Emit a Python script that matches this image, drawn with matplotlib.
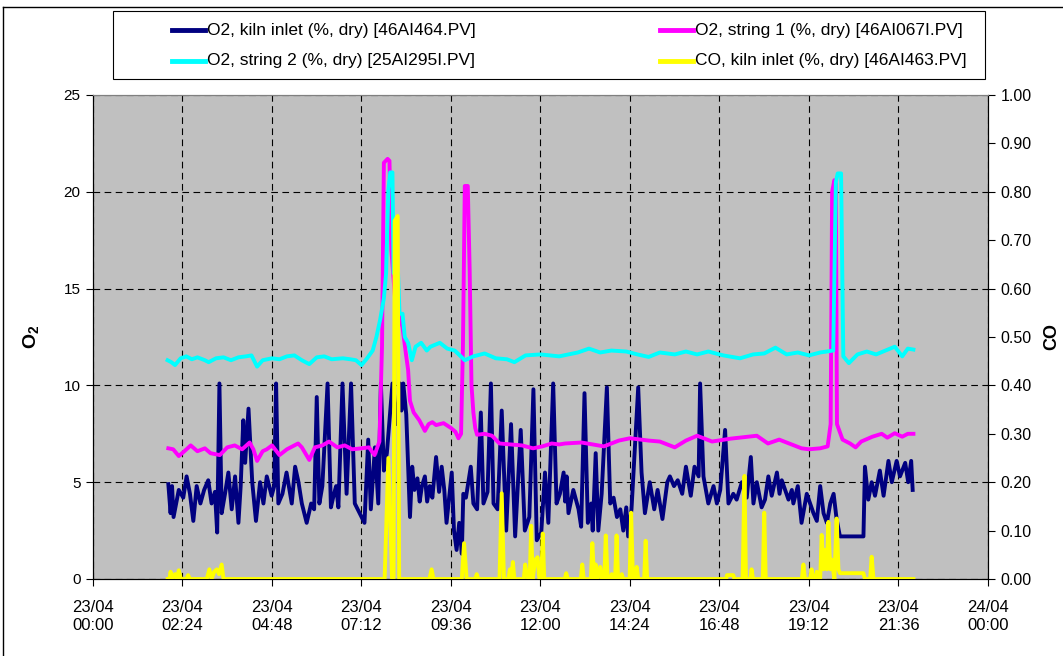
import matplotlib.pyplot as plt
from matplotlib.lines import Line2D
from matplotlib.patches import Rectangle

plt.rcParams['font.family'] = ['Liberation Sans', 'DejaVu Sans']
plt.rcParams['mathtext.fontset'] = 'custom'
plt.rcParams['mathtext.rm'] = 'Liberation Sans'
plt.rcParams['mathtext.bf'] = 'Liberation Sans:bold'

# time in hours after 23/04 00:00
kiln_t = [2.02, 2.08, 2.12, 2.16, 2.30, 2.42, 2.51, 2.60, 2.69, 2.78, 2.88, 2.98, 3.09, 3.18, 3.27,
          3.33, 3.39, 3.45, 3.54, 3.63, 3.72, 3.81, 3.90, 3.96, 4.03, 4.08, 4.17, 4.27, 4.37, 4.48,
          4.57, 4.66, 4.79, 4.86, 4.91, 4.97, 5.08, 5.19, 5.33, 5.42, 5.51, 5.60, 5.73, 5.85, 5.93,
          6.00, 6.07, 6.15, 6.29, 6.38, 6.45, 6.52, 6.58, 6.69, 6.80, 6.92, 7.02, 7.15, 7.28, 7.38,
          7.45, 7.56, 7.65, 7.72, 7.80, 7.88, 8.03, 8.13, 8.23, 8.27, 8.32, 8.40, 8.50, 8.56, 8.62,
          8.70, 8.76, 8.82, 8.90, 8.96, 9.03, 9.10, 9.20, 9.28, 9.35, 9.42, 9.48, 9.62, 9.68, 9.75,
          9.82, 9.89, 9.93, 10.00, 10.13, 10.20, 10.30, 10.40, 10.47, 10.58, 10.67, 10.74, 10.85,
          10.96, 11.08, 11.21, 11.32, 11.47, 11.58, 11.70, 11.81, 11.90, 12.02, 12.12, 12.21, 12.34,
          12.43, 12.52, 12.62, 12.66, 12.70, 12.75, 12.88, 13.02, 13.09, 13.18, 13.27, 13.36, 13.40,
          13.48, 13.55, 13.64, 13.78, 13.87, 13.96, 14.05, 14.14, 14.22, 14.30, 14.35, 14.44, 14.62,
          14.71, 14.80, 14.93, 15.05, 15.14, 15.27, 15.40, 15.47, 15.58, 15.68, 15.80, 15.90, 16.03,
          16.13, 16.24, 16.28, 16.37, 16.50, 16.64, 16.73, 16.82, 16.95, 17.04, 17.17, 17.26, 17.40,
          17.53, 17.64, 17.71, 17.80, 17.93, 18.02, 18.11, 18.20, 18.34, 18.41, 18.47, 18.65, 18.74,
          18.78, 18.90, 19.00, 19.14, 19.32, 19.41, 19.50, 19.59, 19.68, 19.77, 19.86, 19.94, 20.03,
          20.66, 20.70, 20.79, 20.88, 20.97, 21.10, 21.20, 21.33, 21.42, 21.55, 21.64, 21.78, 21.86,
          21.94, 21.98]
kiln_o2 = [4.9, 3.4, 4.8, 3.2, 4.6, 4.2, 5.3, 4.4, 3.0, 4.8, 3.9, 4.6, 5.1, 3.9, 4.5,
           2.4, 10.1, 3.4, 4.4, 5.5, 3.6, 5.3, 2.9, 4.8, 8.2, 6.0, 8.8, 5.0, 3.0, 5.0,
           3.9, 5.3, 4.3, 4.8, 10.1, 3.9, 4.4, 5.5, 3.9, 5.8, 5.0, 3.9, 2.9, 3.9, 3.6,
           9.4, 3.9, 4.8, 10.1, 3.7, 4.3, 4.8, 3.7, 10.1, 4.4, 10.1, 3.9, 3.4, 2.9, 7.2,
           3.6, 6.8, 3.9, 10.1, 5.6, 6.5, 10.1, 8.0, 10.1, 8.7, 10.1, 8.5, 3.2, 5.8, 4.6,
           5.2, 4.0, 4.8, 5.3, 4.0, 4.8, 4.2, 6.3, 4.5, 5.8, 4.6, 2.9, 5.5, 2.5, 1.5,
           2.9, 1.3, 4.4, 4.2, 5.8, 3.9, 3.6, 8.6, 3.9, 4.5, 10.1, 3.9, 3.6,
           8.7, 2.5, 8.0, 2.2, 7.7, 2.5, 3.2, 9.8, 2.0, 2.4, 5.5, 2.9, 10.1,
           3.9, 4.4, 5.5, 4.0, 5.3, 3.4, 4.6, 3.6, 2.7, 9.6, 2.9, 3.9, 2.5,
           6.5, 2.5, 4.4, 9.9, 3.9, 4.2, 3.2, 3.6, 2.5, 3.7, 2.2, 3.6, 9.9,
           5.5, 3.4, 5.0, 3.6, 4.6, 3.1, 5.0, 5.3, 4.8, 5.1, 4.4, 5.8, 4.3,
           5.8, 5.3, 10.1, 5.3, 3.9, 4.8, 3.9, 4.6, 7.7, 3.9, 4.4, 4.1, 5.0,
           4.2, 6.3, 3.9, 5.0, 3.7, 4.1, 5.3, 4.3, 5.5, 4.4, 5.1, 4.1, 4.6,
           3.9, 4.8, 2.9, 4.4, 3.4, 3.0, 4.8, 3.4, 2.9, 3.9, 4.4, 3.1, 2.2,
           2.2, 5.8, 4.1, 5.0, 4.3, 5.6, 4.3, 6.1, 5.0, 6.1, 5.3, 6.0, 5.0,
           6.1, 4.6]

str1_t = [2.02, 2.15, 2.30, 2.45, 2.62, 2.80, 3.00, 3.15, 3.40, 3.60, 3.80, 4.00, 4.20, 4.30, 4.40,
          4.55, 4.66, 4.80, 5.00, 5.20, 5.50, 5.60, 5.80, 5.95, 6.15, 6.33, 6.55, 6.75, 6.95, 7.20,
          7.40, 7.55, 7.68, 7.75, 7.80, 7.90, 7.95, 8.00, 8.10, 8.30, 8.40, 8.45, 8.50, 8.60, 8.75,
          8.90, 9.00, 9.10, 9.20, 9.40, 9.60, 9.72, 9.80, 9.87, 9.92, 9.97, 10.05, 10.10, 10.15,
          10.20, 10.25, 10.30, 10.50, 10.70, 10.90, 11.20, 11.50, 11.80, 12.05, 12.30, 12.50, 12.66,
          13.10, 13.70, 14.10, 14.40, 14.90, 15.20, 15.60, 15.90, 16.20, 16.60, 17.10, 17.80, 18.10,
          18.40, 18.80, 19.00, 19.20, 19.50, 19.70, 19.78, 19.82, 19.88, 19.92, 19.95, 20.10, 20.30,
          20.45, 20.60, 20.90, 21.15, 21.30, 21.50, 21.70, 21.85, 22.00]
str1_o2 = [6.75, 6.7, 6.35, 6.6, 6.9, 6.6, 6.75, 6.5, 6.4, 6.8, 6.9, 6.7, 7.05, 6.7, 6.1,
           6.6, 6.7, 6.9, 6.4, 6.7, 7.0, 6.8, 6.15, 6.8, 6.9, 7.1, 6.8, 6.9, 6.7, 6.75,
           6.8, 6.4, 7.1, 12.0, 21.5, 21.7, 21.6, 17.0, 14.5, 13.0, 11.5, 10.8, 9.2, 8.6, 8.2,
           7.65, 8.0, 8.1, 7.95, 8.05, 7.8, 7.6, 7.27, 7.5, 12.0, 20.3, 20.3, 16.0, 10.0,
           8.6, 7.8, 7.45, 7.5, 7.4, 7.0, 6.95, 6.9, 6.75, 6.85, 7.0, 6.95, 7.0,
           7.05, 6.85, 7.15, 7.27, 7.15, 7.1, 6.8, 7.15, 7.4, 7.1, 7.25, 7.4, 7.0,
           7.2, 6.9, 6.75, 6.7, 6.75, 6.85, 8.0, 20.0, 20.6, 20.4, 8.0, 7.2, 7.0,
           6.8, 7.1, 7.35, 7.5, 7.3, 7.53, 7.35, 7.5, 7.5]

str2_t = [2.00, 2.10, 2.20, 2.35, 2.50, 2.65, 2.80, 3.00, 3.10, 3.30, 3.50, 3.70, 3.90, 4.10, 4.25,
          4.40, 4.55, 4.80, 5.00, 5.20, 5.40, 5.60, 5.80, 6.00, 6.20, 6.40, 6.70, 6.90, 7.05, 7.20,
          7.35, 7.50, 7.60, 7.70, 7.80, 7.86, 7.92, 7.97, 8.03, 8.06, 8.18, 8.22, 8.30, 8.36, 8.45,
          8.55, 8.65, 8.80, 8.95, 9.05, 9.30, 9.50, 9.70, 9.97, 10.20, 10.50, 10.80, 11.10, 11.30,
          11.60, 12.00, 12.50, 13.00, 13.30, 13.60, 13.90, 14.30, 14.60, 14.90, 15.20, 15.60, 15.90,
          16.20, 16.50, 16.90, 17.35, 17.70, 18.00, 18.30, 18.60, 18.90, 19.20, 19.50, 19.85, 19.92,
          19.97, 20.06, 20.12, 20.27, 20.50, 20.75, 21.00, 21.25, 21.50, 21.70, 21.85, 22.00]
str2_o2 = [11.3, 11.2, 11.05, 11.4, 11.5, 11.35, 11.45, 11.3, 11.2, 11.4, 11.45, 11.3, 11.45, 11.5, 11.55,
           10.97, 11.3, 11.4, 11.35, 11.5, 11.55, 11.3, 11.1, 11.45, 11.5, 11.35, 11.4, 11.35, 11.3, 11.05,
           11.4, 11.8, 12.5, 13.4, 14.5, 15.8, 20.1, 21.0, 21.0, 15.8, 15.8, 13.7, 13.7, 12.5, 12.2,
           11.3, 12.0, 12.2, 11.8, 12.0, 12.2, 11.9, 11.8, 11.3, 11.5, 11.65, 11.4, 11.35, 11.2,
           11.55, 11.6, 11.5, 11.7, 11.9, 11.7, 11.8, 11.75, 11.6, 11.47, 11.7, 11.6, 11.75,
           11.6, 11.75, 11.55, 11.4, 11.6, 11.65, 11.95, 11.6, 11.7, 11.55, 11.7, 11.8, 20.5,
           20.95, 20.95, 11.5, 11.15, 11.6, 11.75, 11.6, 11.8, 12.0, 11.5, 11.9, 11.85]

co_t = [2.00, 2.05, 2.08, 2.12, 2.20, 2.25, 2.30, 2.36, 2.50, 2.55, 2.60, 3.05, 3.12, 3.18, 3.25,
        3.32, 3.38, 3.45, 3.50, 7.82, 7.92, 8.02, 8.06, 8.09, 8.17, 8.21, 9.02, 9.08, 9.13,
        9.89, 9.95, 10.02, 10.25, 10.29, 10.33, 10.90, 10.96, 11.02, 11.14, 11.18, 11.22, 11.26,
        11.30, 11.55, 11.59, 11.63, 11.67, 11.71, 11.75, 11.79, 11.86, 11.92, 11.97, 12.02, 12.06,
        12.10, 12.65, 12.69, 12.73, 13.08, 13.12, 13.16, 13.35, 13.39, 13.44, 13.48, 13.53, 13.60,
        13.65, 13.71, 13.75, 13.80, 13.87, 13.91, 13.95, 14.00, 14.04, 14.08, 14.15, 14.18, 14.22,
        14.39, 14.43, 14.48, 14.54, 14.58, 14.62, 14.78, 14.82, 14.86, 16.98, 17.00, 17.17, 17.20,
        17.42, 17.47, 17.51, 17.63, 17.66, 17.70, 17.96, 18.00, 18.04, 19.01, 19.05, 19.09, 19.23,
        19.27, 19.31, 19.37, 19.41, 19.45, 19.50, 19.54, 19.59, 19.63, 19.68, 19.72, 19.77, 19.81,
        19.88, 19.94, 19.99, 20.03, 20.66, 20.70, 20.84, 20.88, 20.93, 22.00]
co_pct = [0.0, 0.0, 0.015, 0.0, 0.01, 0.0, 0.018, 0.0, 0.0, 0.008, 0.0, 0.0, 0.02, 0.0, 0.015,
          0.02, 0.01, 0.03, 0.0, 0.0, 0.25, 0.0, 0.0, 0.74, 0.75, 0.0, 0.0, 0.02, 0.0,
          0.0, 0.074, 0.0, 0.0, 0.01, 0.0, 0.0, 0.177, 0.0, 0.0, 0.02, 0.0, 0.035,
          0.0, 0.0, 0.03, 0.01, 0.0, 0.0, 0.11, 0.0, 0.04, 0.045, 0.0, 0.0, 0.094,
          0.0, 0.0, 0.012, 0.0, 0.0, 0.03, 0.0, 0.0, 0.074, 0.0, 0.03, 0.0, 0.025,
          0.0, 0.0, 0.09, 0.0, 0.0, 0.01, 0.0, 0.0, 0.09, 0.0, 0.0, 0.01, 0.0,
          0.0, 0.137, 0.0, 0.0, 0.025, 0.0, 0.0, 0.079, 0.0, 0.0, 0.008, 0.008, 0.0,
          0.0, 0.213, 0.0, 0.0, 0.02, 0.0, 0.0, 0.137, 0.0, 0.0, 0.03, 0.0, 0.0,
          0.02, 0.0, 0.0, 0.015, 0.0, 0.0, 0.091, 0.02, 0.06, 0.02, 0.118, 0.02, 0.04,
          0.0, 0.125, 0.02, 0.012, 0.012, 0.0, 0.0, 0.046, 0.0, 0.0]

xtick_labels = ['23/04\n00:00', '23/04\n02:24', '23/04\n04:48', '23/04\n07:12', '23/04\n09:36',
                '23/04\n12:00', '23/04\n14:24', '23/04\n16:48', '23/04\n19:12', '23/04\n21:36',
                '24/04\n00:00']
names = ['O2, kiln inlet (%, dry) [46AI464.PV]', 'O2, string 1 (%, dry) [46AI067I.PV]',
         'O2, string 2 (%, dry) [25AI295I.PV]', 'CO, kiln inlet (%, dry) [46AI463.PV]']
colors = ['#000080', '#FF00FF', '#00FFFF', '#FFFF00']

W, H = 1063, 656
fig = plt.figure(figsize=(W / 100, H / 100), dpi=100)
ax = fig.add_axes([93 / W, 1 - 579 / H, 895 / W, 484 / H])
ax2 = ax.twinx()
ax.set_facecolor('#C0C0C0')

lw = 2.8
ax.plot(kiln_t, kiln_o2, color=colors[0], lw=lw, zorder=3)
ax.plot(str1_t, str1_o2, color=colors[1], lw=lw, zorder=4)
ax.plot(str2_t, str2_o2, color=colors[2], lw=lw, zorder=5)
ax2.plot(co_t, co_pct, color=colors[3], lw=lw, zorder=3)

ax.set_xlim(0, 24)
ax.set_ylim(0, 25)
ax2.set_ylim(0, 1.0)
ax.set_xticks([2.4 * i for i in range(11)])
ax.set_xticklabels(xtick_labels, fontsize=12, linespacing=1.3)
ax.set_yticks(range(0, 26, 5))
ax2.set_yticks([i / 10 for i in range(11)])
ax2.set_yticklabels(['%.2f' % (i / 10) for i in range(11)])
ax.tick_params(axis='y', labelsize=11, length=5, direction='out', pad=4)
ax.tick_params(axis='x', length=5, direction='out', pad=10)
ax2.tick_params(axis='y', labelsize=11.5, length=5, direction='out', pad=4)

ax.grid(True, color='black', linestyle=(0, (6, 4)), linewidth=0.8)
ax.set_axisbelow(True)
for a in (ax, ax2):
    a.spines['top'].set_color('#808080')
    a.spines['left'].set_color('black')
    a.spines['right'].set_color('black')
    a.spines['bottom'].set_color('black')

ax.set_ylabel(r'$\mathbf{O_2}$', fontsize=14, labelpad=16)
ax2.set_ylabel('CO', fontsize=13, fontweight='bold', labelpad=8)

# legend box
def fx(px):
    return px / W

def fy(py):
    return 1 - py / H

fig.add_artist(Rectangle((fx(113), fy(79)), fx(985) - fx(113), fy(11) - fy(79),
                         transform=fig.transFigure, facecolor='white', edgecolor='black', lw=0.8))
entries = [(172, 30), (660, 30), (172, 61), (660, 61)]
for (x0, y0), name, c in zip(entries, names, colors):
    fig.add_artist(Line2D([fx(x0), fx(x0 + 33)], [fy(y0), fy(y0)], transform=fig.transFigure,
                          color=c, lw=3.5))
    fig.text(fx(x0 + 35), fy(y0), name, fontsize=12.5, va='center', ha='left')

# outer chart frame
fig.add_artist(Line2D([fx(3), fx(3)], [fy(7), 0], transform=fig.transFigure, color='black', lw=1))
fig.add_artist(Line2D([fx(3), 1], [fy(7), fy(7)], transform=fig.transFigure, color='black', lw=1))

fig.savefig('out.png', dpi=100)
